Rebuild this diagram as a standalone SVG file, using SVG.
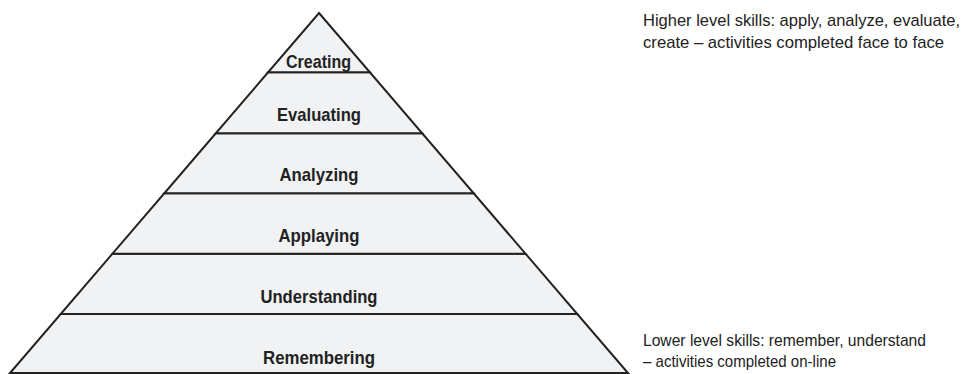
<svg xmlns="http://www.w3.org/2000/svg" width="968" height="374" viewBox="0 0 968 374">
<style>
.tier{fill:#f1f2f4;stroke:#222;stroke-width:2;stroke-linejoin:miter}
.lbl{font-family:"Liberation Sans",Arial,sans-serif;font-weight:bold;font-size:19px;fill:#222;text-anchor:middle}
.note{font-family:"Liberation Sans",Arial,sans-serif;font-size:17px;fill:#222}
</style>
<rect width="968" height="374" fill="#ffffff"/>
<g id="remembering">
<polygon class="tier" points="60.7,314 577.3,314 628,373 10,373"/>
<text class="lbl" x="319" y="364" textLength="112" lengthAdjust="spacingAndGlyphs">Remembering</text>
</g>
<g id="understanding">
<polygon class="tier" points="112.5,253.7 525.5,253.7 577.3,314 60.7,314"/>
<text class="lbl" x="319" y="303.3" textLength="117" lengthAdjust="spacingAndGlyphs">Understanding</text>
</g>
<g id="applaying">
<polygon class="tier" points="164.3,193.3 473.7,193.3 525.5,253.7 112.5,253.7"/>
<text class="lbl" x="319" y="241.7" textLength="81" lengthAdjust="spacingAndGlyphs">Applaying</text>
</g>
<g id="analyzing">
<polygon class="tier" points="215.8,133.3 422.2,133.3 473.7,193.3 164.3,193.3"/>
<text class="lbl" x="319" y="181" textLength="79" lengthAdjust="spacingAndGlyphs">Analyzing</text>
</g>
<g id="evaluating">
<polygon class="tier" points="268.1,72.3 369.9,72.3 422.2,133.3 215.8,133.3"/>
<text class="lbl" x="319" y="121" textLength="84" lengthAdjust="spacingAndGlyphs">Evaluating</text>
</g>
<g id="creating">
<polygon class="tier" points="319,13 369.9,72.3 268.1,72.3"/>
<text class="lbl" x="318.5" y="68.3" textLength="65" lengthAdjust="spacingAndGlyphs">Creating</text>
</g>
<g id="note-higher">
<text class="note" x="643" y="26" textLength="317" lengthAdjust="spacingAndGlyphs">Higher level skills: apply, analyze, evaluate,</text>
<text class="note" x="643" y="48" textLength="301" lengthAdjust="spacingAndGlyphs">create – activities completed face to face</text>
</g>
<g id="note-lower">
<text class="note" x="643" y="346" textLength="283" lengthAdjust="spacingAndGlyphs">Lower level skills: remember, understand</text>
<text class="note" x="643" y="367" textLength="193" lengthAdjust="spacingAndGlyphs">– activities completed on-line</text>
</g>
<g id="connectors"/>
</svg>
